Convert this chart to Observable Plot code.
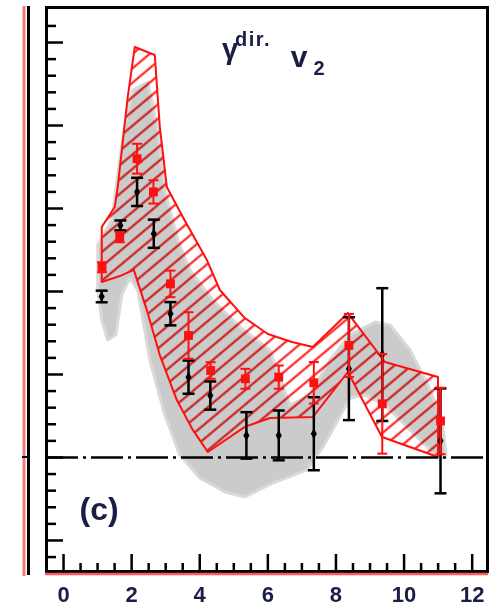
<!DOCTYPE html>
<html><head><meta charset="utf-8">
<script src="https://cdn.jsdelivr.net/npm/d3@7"></script>
<script src="https://cdn.jsdelivr.net/npm/@observablehq/plot@0.6"></script>
<style>
html,body{margin:0;padding:0;background:#fff;}
#chart{width:493px;height:606px;overflow:hidden;position:relative;}
</style></head><body><div id="chart"></div>
<script>
// ---- data ----
const redX   = [1.13, 1.65, 2.16, 2.64, 3.14, 3.67, 4.32, 5.34, 6.32, 7.35, 8.38, 9.36, 11.07];
const redY   = [0.1146, 0.1327, 0.180, 0.160, 0.1046, 0.0735, 0.0524, 0.0474, 0.0484, 0.045, 0.0675, 0.0323, 0.022];
const redErr = [0.003, 0.003, 0.009, 0.007, 0.008, 0.014, 0.005, 0.006, 0.007, 0.0125, 0.019, 0.030, 0.020];

const blackX   = [1.12, 1.67, 2.16, 2.65, 3.14, 3.67, 4.31, 5.37, 6.32, 7.35, 8.38, 9.36, 11.07];
const blackY   = [0.097, 0.1398, 0.160, 0.1348, 0.0866, 0.0484, 0.0373, 0.0133, 0.0133, 0.0143, 0.0535, 0.062, 0.010];
const blackErr = [0.0035, 0.003, 0.0085, 0.0085, 0.007, 0.010, 0.0085, 0.014, 0.015, 0.022, 0.031, 0.040, 0.0316];

const bandUpperX = [1.137, 1.519, 1.607, 1.901, 2.107, 2.695, 2.842, 3.048, 3.518, 4.223, 4.605, 5.339, 6.016, 6.721, 7.338, 8.366, 9.454, 11.011];
const bandUpperY = [0.1386, 0.1506, 0.1627, 0.2169, 0.2470, 0.2422, 0.1988, 0.1627, 0.1446, 0.1187, 0.1006, 0.0837, 0.0741, 0.0693, 0.0663, 0.0867, 0.0572, 0.0482];
const bandLowerX = [1.137, 1.666, 2.078, 2.460, 2.842, 3.342, 3.811, 4.252, 5.339, 6.074, 7.338, 8.366, 9.366, 11.011];
const bandLowerY = [0.1054, 0.1090, 0.1127, 0.0886, 0.0614, 0.0343, 0.0163, 0.0030, 0.0181, 0.0235, 0.0241, 0.0512, 0.0120, 0.0000];

const grayUpperX = [1.020, 1.431, 1.784, 2.048, 2.489, 2.783, 2.989, 3.371, 3.723, 4.399, 5.192, 6.074, 6.662, 7.250, 7.838, 8.426, 9.161, 9.602, 10.190, 10.719, 11.130, 11.248];
const grayUpperY = [0.1277, 0.1428, 0.1970, 0.2211, 0.2259, 0.1970, 0.1608, 0.1307, 0.1127, 0.0946, 0.0783, 0.0645, 0.0313, 0.0373, 0.0584, 0.0735, 0.0813, 0.0795, 0.0645, 0.0434, 0.0223, 0.0012];
const grayLowerX = [1.020, 1.137, 1.314, 1.549, 1.725, 1.960, 2.195, 2.548, 2.989, 3.429, 4.017, 4.752, 5.339, 6.162, 7.162, 7.632, 8.073, 8.426, 8.867, 9.455, 10.043, 10.631, 11.072];
const grayLowerY = [0.1006, 0.0825, 0.0705, 0.0735, 0.0976, 0.1078, 0.1006, 0.0584, 0.0253, 0.0012, -0.0127, -0.0211, -0.0241, -0.0157, -0.0078, 0.0060, 0.0223, 0.0355, 0.0373, 0.0313, 0.0193, 0.0072, -0.0018];

const xMajorTicks = [0, 2, 4, 6, 8, 10, 12];
const xMinorTicks = [0.5, 1, 1.5, 2.5, 3, 3.5, 4.5, 5, 5.5, 6.5, 7, 7.5, 8.5, 9, 9.5, 10.5, 11, 11.5];
const yMajorTicks = [-0.05, 0, 0.05, 0.10, 0.15, 0.20, 0.25];
const yMinorTicks = [-0.06, -0.04, -0.03, -0.02, -0.01, 0.01, 0.02, 0.03, 0.04, 0.06, 0.07, 0.08, 0.09, 0.11, 0.12, 0.13, 0.14, 0.16, 0.17, 0.18, 0.19, 0.21, 0.22, 0.23, 0.24, 0.26];
const panelLabel = "(c)";

// ---- build tables ----
// pair the upper edge (topline) with the lower edge (baseline); the shorter edge repeats its last vertex
const bandRows = (ux, uy, lx, ly) => {
  const n = Math.max(ux.length, lx.length);
  return d3.range(n).map(i => {
    const u = Math.min(i, ux.length - 1), l = Math.min(i, lx.length - 1);
    return {ux: ux[u], uy: uy[u], lx: lx[l], ly: ly[l]};
  });
};
const redBand = bandRows(bandUpperX, bandUpperY, bandLowerX, bandLowerY);
const grayBand = bandRows(grayUpperX, grayUpperY, grayLowerX, grayLowerY);
const red = redX.map((x, i) => ({x, y: redY[i], lo: redY[i] - redErr[i], hi: redY[i] + redErr[i]}));
const black = blackX.map((x, i) => ({x, y: blackY[i], lo: blackY[i] - blackErr[i], hi: blackY[i] + blackErr[i]}));
const caps = (d) => d.flatMap(p => [{x: p.x, y: p.lo}, {x: p.x, y: p.hi}]);
const capSymbol = (w) => ({draw(ctx) { ctx.moveTo(-w, 0); ctx.lineTo(w, 0); }});

const RED = "#ff1010";
const HATCH_TAG = "#fe0102";   // sentinel colours used to find the band groups afterwards
const GRAY_TAG = "#cbcbcc";
const TXT = "#1a1d45";
const bandArea = (rows, opts) => Plot.area(rows, {x1: "lx", y1: "ly", x2: "ux", y2: "uy", ...opts});

const chart = Plot.plot({
  width: 493, height: 606,
  marginLeft: 46, marginRight: 6, marginTop: 7, marginBottom: 35,
  x: {domain: [-0.5, 12.45], label: null},
  y: {domain: [-0.0687, 0.2711], label: null},
  style: {fontFamily: "'Liberation Sans', Arial, sans-serif", background: "white", overflow: "visible"},
  marks: [
    bandArea(redBand, {fill: HATCH_TAG, stroke: "none"}),
    bandArea(grayBand, {fill: GRAY_TAG, stroke: "#d9d9d9", strokeWidth: 3, strokeLinejoin: "round"}),
    bandArea(redBand, {fill: "none", stroke: RED, strokeWidth: 2}),
    Plot.ruleY([0], {stroke: "black", strokeWidth: 2.5, strokeDasharray: "32,5,3,5"}),
    Plot.ruleX(black, {x: "x", y1: "lo", y2: "hi", stroke: "black", strokeWidth: 2.5}),
    Plot.dot(caps(black), {x: "x", y: "y", symbol: capSymbol(6), stroke: "black", strokeWidth: 2.5, fill: "none"}),
    Plot.dot(black, {x: "x", y: "y", symbol: "diamond", r: 3.2, fill: "black", stroke: "none"}),
    Plot.ruleX(red, {x: "x", y1: "lo", y2: "hi", stroke: RED, strokeWidth: 2}),
    Plot.dot(caps(red), {x: "x", y: "y", symbol: capSymbol(5), stroke: RED, strokeWidth: 2, fill: "none"}),
    Plot.dot(red, {x: "x", y: "y", symbol: "square", r: 5, fill: RED, stroke: "none"}),
    Plot.frame({stroke: "black", strokeWidth: 3}),
    Plot.axisY({anchor: "left", ticks: yMajorTicks, tickSize: -17, tickFormat: () => "", strokeWidth: 2.5, label: null}),
    Plot.axisY({anchor: "left", ticks: yMinorTicks, tickSize: -10, tickFormat: () => "", strokeWidth: 2.5, label: null}),
    Plot.axisX({anchor: "bottom", ticks: xMajorTicks, tickSize: -17, tickFormat: () => "", strokeWidth: 2.5, label: null}),
    Plot.axisX({anchor: "bottom", ticks: xMinorTicks, tickSize: -8, tickFormat: () => "", strokeWidth: 2.5, label: null}),
    Plot.axisX({anchor: "bottom", ticks: xMajorTicks, tickSize: 0, tickPadding: 15, tickFormat: d => String(d), fontSize: 22, fontWeight: "bold", fill: TXT, label: null}),
    Plot.text([panelLabel], {frameAnchor: "bottom-left", dx: 33, dy: -52, fontSize: 32, fontWeight: "bold", fill: TXT, textAnchor: "start"})
  ]
});
document.getElementById("chart").appendChild(chart);

// ---- decoration: hatch pattern, grey blend, neighbour-panel edges, title ----
const svg = d3.select(chart);
const defs = svg.insert("defs", ":first-child");
const pat = defs.append("pattern").attr("id", "hatch").attr("patternUnits", "userSpaceOnUse")
  .attr("width", 20).attr("height", 11).attr("patternTransform", "rotate(-40)");
pat.append("line").attr("x1", -2).attr("y1", 5.5).attr("x2", 22).attr("y2", 5.5).attr("stroke", RED).attr("stroke-width", 2);
svg.selectAll(`g[fill="${HATCH_TAG}"]`).attr("fill", "url(#hatch)");
// grey band multiplied over the hatch so both stay visible
svg.selectAll(`g[fill="${GRAY_TAG}"]`).attr("fill", "#cbcbcb").style("mix-blend-mode", "multiply");

svg.append("line").attr("x1", 24).attr("x2", 24).attr("y1", 6).attr("y2", 576).attr("stroke", "#f47c7c").attr("stroke-width", 3);
svg.append("line").attr("x1", 28.5).attr("x2", 28.5).attr("y1", 6).attr("y2", 575).attr("stroke", "black").attr("stroke-width", 3);
svg.append("line").attr("x1", 22).attr("x2", 28).attr("y1", 457).attr("y2", 457).attr("stroke", "black").attr("stroke-width", 2);
svg.append("line").attr("x1", 45).attr("x2", 488).attr("y1", 574).attr("y2", 574).attr("stroke", "#ff5a5a").attr("stroke-width", 2.5);

const t = svg.append("text").attr("fill", TXT).attr("font-weight", "bold")
  .attr("font-family", "'Liberation Sans', Arial, sans-serif");
t.append("tspan").attr("x", 230).attr("y", 59).attr("font-size", 29).text("γ");
t.append("tspan").attr("x", 253).attr("y", 46).attr("font-size", 20).attr("letter-spacing", 1.5).text("dir.");
t.append("tspan").attr("x", 299).attr("y", 67).attr("font-size", 30).attr("letter-spacing", 0).text("v");
t.append("tspan").attr("x", 319).attr("y", 75).attr("font-size", 20).text("2");
</script></body></html>
